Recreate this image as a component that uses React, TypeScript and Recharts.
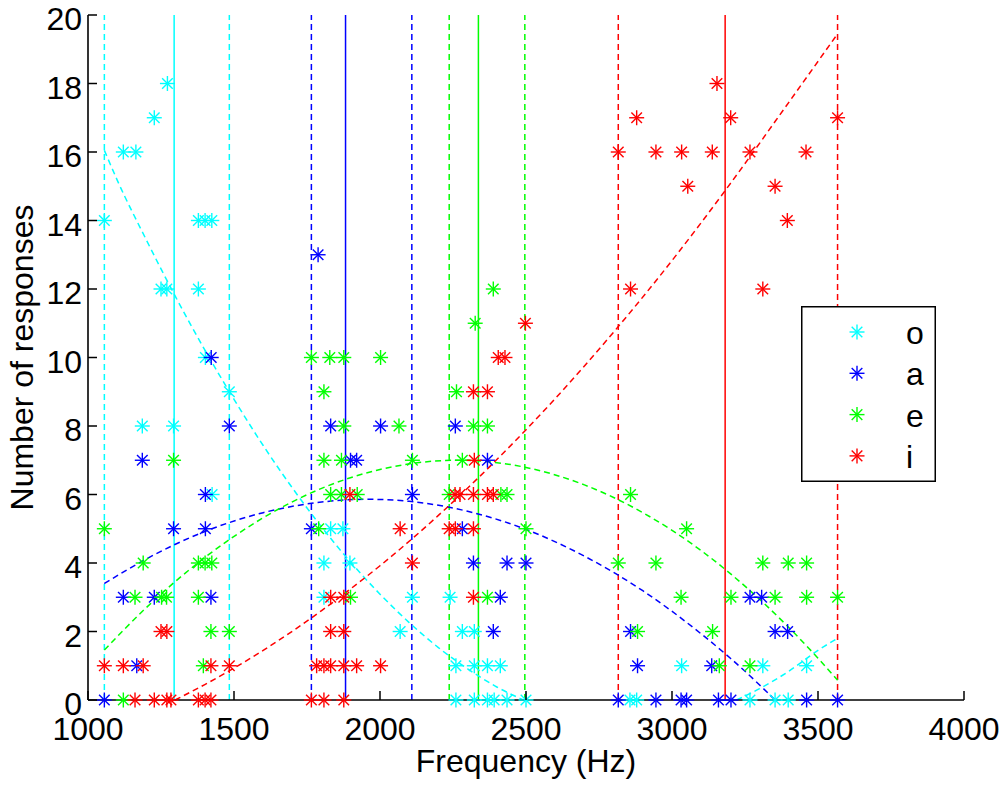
import React from 'react';
import { ComposedChart, XAxis, YAxis, Scatter, Line, ReferenceLine, Legend, Label } from 'recharts';

// ---------- axis ticks ----------
const xTicks = [1000, 1500, 2000, 2500, 3000, 3500, 4000];
const yTicks = [0, 2, 4, 6, 8, 10, 12, 14, 16, 18, 20];

// ---------- categories ----------
const vowels = ['o', 'a', 'e', 'i'];
const colors = ['#00FFFF', '#0000FF', '#00FF00', '#FF0000'];

// ---------- vertical reference lines (Hz) ----------
const lineLows = [1056, 1765, 2237, 2816];
const lineCenters = [1295, 1882, 2337, 3182];
const lineHighs = [1484, 2109, 2496, 3567];

// ---------- responses: "o" ----------
const oFreq = [1056, 1121, 1164, 1227, 1272, 1250, 1270, 1378, 1378, 1401, 1424, 1402, 1484, 1186, 1293, 1425,
  1831, 1873, 1808, 1897, 1808, 2111, 2240, 2069, 2282, 2323, 2260, 2323, 2368, 2412,
  2260, 2323, 2368, 2391, 2435, 2500, 3033, 3311, 3461, 2856, 2879, 3267, 3353, 3398];
const oCount = [14, 16, 16, 17, 18, 12, 12, 12, 14, 14, 14, 10, 9, 8, 8, 6,
  5, 5, 4, 4, 3, 3, 3, 2, 2, 2, 1, 1, 1, 1,
  0, 0, 0, 0, 0, 0, 1, 1, 1, 0, 0, 0, 0, 0];

// ---------- responses: "a" ----------
const aFreq = [1056, 1121, 1167, 1186, 1227, 1293, 1402, 1402, 1421, 1422, 1484,
  1788, 1765, 1831, 1899, 1920, 2002, 2111, 2258, 2368, 2282, 2320, 2435, 2500, 2412, 2388,
  3267, 3307, 2858, 3353, 3396, 2882, 3136, 2816, 2945, 3031, 3050, 3159, 3202, 3461, 3567];
const aCount = [0, 3, 1, 7, 3, 5, 5, 6, 3, 10, 8,
  13, 5, 8, 7, 7, 8, 6, 8, 7, 5, 4, 4, 4, 3, 2,
  3, 3, 2, 2, 2, 1, 1, 0, 0, 0, 0, 0, 0, 0, 0];

// ---------- responses: "e" ----------
const eFreq = [1056, 1121, 1161, 1189, 1252, 1269, 1293, 1378, 1378, 1401, 1424, 1395, 1421, 1484,
  1765, 1828, 1876, 2002, 1808, 1876, 2065, 1808, 1868, 2111, 1831, 1868, 1922, 1790, 1899,
  2388, 2326, 2262, 2320, 2368, 2282, 2237, 2414, 2435, 2500, 2368,
  2858, 3050, 2816, 2945, 3311, 3398, 3461, 3031, 3202, 3353, 3461, 3567, 2882, 3139, 3162, 3267];
const eCount = [5, 0, 3, 4, 3, 3, 7, 3, 4, 4, 4, 1, 2, 2,
  10, 10, 10, 10, 9, 8, 8, 7, 7, 7, 6, 6, 6, 5, 3,
  12, 11, 9, 8, 8, 7, 6, 6, 6, 5, 3,
  6, 5, 4, 4, 4, 4, 4, 3, 3, 3, 3, 3, 2, 2, 1, 1];

// ---------- responses: "i" ----------
const iFreq = [1056, 1121, 1189, 1421, 1484, 1250, 1270, 1161, 1227, 1270, 1284, 1378, 1401, 1421,
  1897, 2069, 2111, 1831, 1876, 1831, 1876, 1783, 1808, 1831, 1876, 1920, 2002, 1765, 1808, 1876,
  2498, 2405, 2428, 2320, 2368, 2323, 2257, 2274, 2320, 2368, 2388, 2237, 2258, 2320, 2320,
  3154, 2879, 3201, 3567, 2816, 2945, 3033, 3138, 3267, 3459, 3054, 3353, 3395, 2858, 3311];
const iCount = [1, 1, 1, 1, 1, 2, 2, 0, 0, 0, 0, 0, 0, 0,
  6, 5, 4, 3, 3, 2, 2, 1, 1, 1, 1, 1, 1, 0, 0, 0,
  11, 10, 10, 9, 9, 7, 6, 6, 6, 6, 6, 5, 5, 5, 3,
  18, 17, 17, 17, 16, 16, 16, 16, 16, 16, 15, 15, 14, 12, 12];

// ---------- fitted curves ----------
const oFitFreqA = [1056, 1100, 1200, 1300, 1400, 1500, 1600, 1700, 1800, 1900, 2000, 2100, 2200, 2300, 2400, 2491];
const oFitCountA = [16.05, 15.18, 13.43, 11.77, 10.22, 8.78, 7.43, 6.19, 5.05, 4.02, 3.09, 2.26, 1.53, 0.91, 0.38, 0];
const oFitFreqB = [3221, 3300, 3400, 3500, 3567];
const oFitCountB = [0, 0.33, 0.84, 1.45, 1.8];

const aFitFreq = [1056, 1200, 1400, 1600, 1800, 1959, 2100, 2300, 2500, 2700, 2900, 3100, 3200, 3300, 3353];
const aFitCount = [3.4, 4.12, 4.92, 5.47, 5.78, 5.86, 5.8, 5.51, 4.98, 4.2, 3.19, 1.93, 1.22, 0.44, 0];

const eFitFreq = [1056, 1200, 1400, 1600, 1800, 2000, 2265, 2500, 2700, 2900, 3100, 3300, 3500, 3567];
const eFitCount = [1.46, 2.7, 4.16, 5.32, 6.18, 6.73, 7.0, 6.79, 6.28, 5.47, 4.36, 2.94, 1.22, 0.58];

const iFitFreq = [1298, 1400, 1500, 1600, 1700, 1800, 1900, 2000, 2200, 2400, 2600, 2800, 3000, 3200, 3400, 3567];
const iFitCount = [0, 0.45, 0.93, 1.45, 2.01, 2.61, 3.25, 3.92, 5.39, 7.02, 8.8, 10.74, 12.83, 15.08, 17.45, 19.45];

// ---------- build tables ----------
const zip = (xs: number[], ys: number[]) => xs.map((x, i) => ({ x, y: ys[i] }));
const scatterSets = [zip(oFreq, oCount), zip(aFreq, aCount), zip(eFreq, eCount), zip(iFreq, iCount)];
const fitSets = [
  { c: 0, d: zip(oFitFreqA, oFitCountA) },
  { c: 0, d: zip(oFitFreqB, oFitCountB) },
  { c: 1, d: zip(aFitFreq, aFitCount) },
  { c: 2, d: zip(eFitFreq, eFitCount) },
  { c: 3, d: zip(iFitFreq, iFitCount) },
];

const FONT = '"Liberation Sans", Arial, Helvetica, sans-serif';
const FS = 32;

const starLines = (cx: number, cy: number, color: string) => {
  const r = 7.5;
  const d = 5.3;
  return (
    <g stroke={color} strokeWidth={1.4} fill="none">
      <line x1={cx - r} y1={cy} x2={cx + r} y2={cy} />
      <line x1={cx} y1={cy - r} x2={cx} y2={cy + r} />
      <line x1={cx - d} y1={cy - d} x2={cx + d} y2={cy + d} />
      <line x1={cx - d} y1={cy + d} x2={cx + d} y2={cy - d} />
    </g>
  );
};

const makeStar = (color: string) => (props: any) => {
  const { cx, cy } = props;
  if (cx == null || cy == null) return <g />;
  return starLines(cx, cy, color);
};

const XTick = (props: any) => {
  const { x, y, payload } = props;
  return (
    <g>
      <line x1={x} y1={y} x2={x} y2={y - 9} stroke="#000" strokeWidth={1.5} />
      <text x={x} y={y + 40} textAnchor="middle" fontSize={FS} fontFamily={FONT} fill="#000">
        {payload.value}
      </text>
    </g>
  );
};

const YTick = (props: any) => {
  const { x, y, payload } = props;
  return (
    <g>
      <line x1={x} y1={y} x2={x + 9} y2={y} stroke="#000" strokeWidth={1.5} />
      <text x={x - 6} y={y + 15} textAnchor="end" fontSize={FS} fontFamily={FONT} fill="#000">
        {payload.value}
      </text>
    </g>
  );
};

const XTitle = (props: any) => {
  const vb = props.viewBox;
  return (
    <text x={vb.x + vb.width / 2} y={vb.y + 72} textAnchor="middle" fontSize={FS} fontFamily={FONT} fill="#000">
      Frequency (Hz)
    </text>
  );
};

const YTitle = (props: any) => {
  const vb = props.viewBox;
  const cx = 33;
  const cy = vb.y + vb.height / 2;
  return (
    <text x={cx} y={cy} textAnchor="middle" fontSize={FS} fontFamily={FONT} fill="#000"
      transform={`rotate(-90, ${cx}, ${cy})`}>
      Number of responses
    </text>
  );
};

const LegendBox = () => {
  const w = 135;
  const h = 176;
  return (
    <svg width={w} height={h} style={{ display: 'block' }}>
      <rect x={0.75} y={0.75} width={w - 1.5} height={h - 1.5} fill="#fff" stroke="#000" strokeWidth={1.5} />
      {vowels.map((v, i) => {
        const cy = 26 + i * 41.3;
        return (
          <g key={v}>
            {starLines(56, cy, colors[i])}
            <text x={105} y={cy + 12} fontSize={FS} fontFamily={FONT} fill="#000">{v}</text>
          </g>
        );
      })}
    </svg>
  );
};

export default function App() {
  return (
    <div style={{ position: 'absolute', left: 0, top: 0, width: 1000, height: 789, background: '#fff' }}>
      <ComposedChart width={1000} height={789} margin={{ top: 15, right: 36, bottom: 0, left: 0 }}>
        <XAxis
          type="number"
          dataKey="x"
          domain={[1000, 4000]}
          ticks={xTicks}
          interval={0}
          height={89}
          tickSize={0}
          tickMargin={0}
          tickLine={false}
          tick={<XTick />}
          axisLine={{ stroke: '#000', strokeWidth: 1.6 }}
        >
          <Label content={XTitle} />
        </XAxis>
        <YAxis
          type="number"
          dataKey="y"
          domain={[0, 20]}
          ticks={yTicks}
          interval={0}
          width={88}
          tickSize={0}
          tickMargin={0}
          tickLine={false}
          tick={<YTick />}
          axisLine={{ stroke: '#000', strokeWidth: 1.6 }}
        >
          <Label content={YTitle} />
        </YAxis>
        {lineLows.map((v, i) => (
          <ReferenceLine key={'lo' + i} x={v} stroke={colors[i]} strokeWidth={1.5} strokeDasharray="6 4" ifOverflow="extendDomain" />
        ))}
        {lineCenters.map((v, i) => (
          <ReferenceLine key={'c' + i} x={v} stroke={colors[i]} strokeWidth={1.5} ifOverflow="extendDomain" />
        ))}
        {lineHighs.map((v, i) => (
          <ReferenceLine key={'hi' + i} x={v} stroke={colors[i]} strokeWidth={1.5} strokeDasharray="6 4" ifOverflow="extendDomain" />
        ))}
        {fitSets.map((f, i) => (
          <Line
            key={'fit' + i}
            data={f.d}
            dataKey="y"
            type="monotone"
            stroke={colors[f.c]}
            strokeWidth={1.5}
            strokeDasharray="6 4"
            dot={false}
            activeDot={false}
            isAnimationActive={false}
            legendType="none"
          />
        ))}
        {scatterSets.map((d, i) => (
          <Scatter
            key={'sc' + i}
            name={vowels[i]}
            data={d}
            shape={makeStar(colors[i])}
            isAnimationActive={false}
          />
        ))}
        <Legend
          layout="vertical"
          align="center"
          verticalAlign="middle"
          content={<LegendBox />}
          wrapperStyle={{ position: 'absolute', left: 801, top: 306, width: 135, height: 176 }}
        />
      </ComposedChart>
    </div>
  );
}
